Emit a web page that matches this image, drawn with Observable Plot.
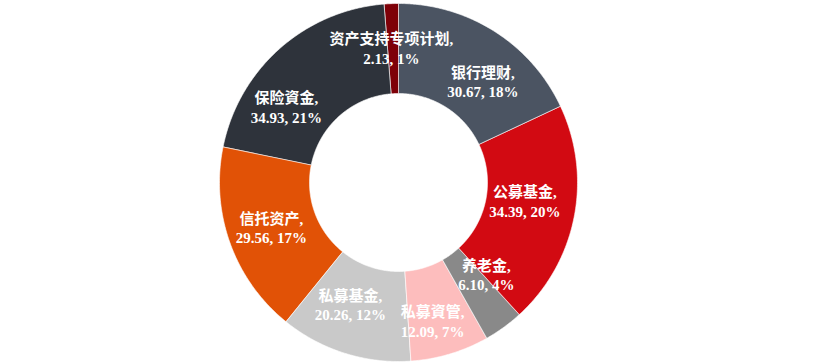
<!DOCTYPE html>
<html>
<head>
<meta charset="utf-8">
<script src="https://cdn.jsdelivr.net/npm/d3@7"></script>
<script src="https://cdn.jsdelivr.net/npm/@observablehq/plot@0.6"></script>
<style>
  html, body { margin: 0; padding: 0; background: #ffffff; }
  #chart svg { display: block; }
</style>
</head>
<body>
<div id="chart"></div>
<script>
// ---- data ----
const categories = ["银行理财", "公募基金", "养老金", "私募資管", "私募基金", "信托资产", "保险資金", "资产支持专项计划"];
const values = [30.67, 34.39, 6.10, 12.09, 20.26, 29.56, 34.93, 2.13];
const percents = [18, 20, 4, 7, 12, 17, 21, 1];
const colors = ["#4b5462", "#d20a12", "#898989", "#fdbdbd", "#c9c9c9", "#e15206", "#2e333b", "#7e0008"];

// ---- layout ----
const W = 822, H = 364;
const CX = 398, CY = 182;
const R1 = 179, R0 = 89, RL = 133;
const labelNudge = [[13, 11], [-4, -8], [10, -16], [-4, 11], [-8, -5], [-2, 0], [-24, 24], [-2, -2]];

const total = d3.sum(values);
const angle = d3.scaleLinear().domain([0, total]).range([0, 2 * Math.PI]);
const pt = (r, a) => [r * Math.sin(a), -r * Math.cos(a)];

let cum = 0;
const slices = categories.map((c, i) => {
  const a0 = angle(cum);
  cum += values[i];
  const a1 = angle(cum);
  return {category: c, value: values[i], percent: percents[i], a0, a1, i};
});

const features = slices.map(s => {
  const n = Math.max(2, Math.ceil((s.a1 - s.a0) / (Math.PI / 360)));
  const outer = d3.range(n + 1).map(k => pt(R1, s.a0 + (s.a1 - s.a0) * k / n));
  const inner = d3.range(n + 1).map(k => pt(R0, s.a1 - (s.a1 - s.a0) * k / n));
  return {
    type: "Feature",
    properties: {category: s.category},
    geometry: {type: "Polygon", coordinates: [[...outer, ...inner, outer[0]]]}
  };
});

const labels = slices.map(s => {
  const [x, y] = pt(RL, (s.a0 + s.a1) / 2);
  return {
    x: x + labelNudge[s.i][0],
    y: y + labelNudge[s.i][1],
    text: `${s.category},\n${s.value.toFixed(2)}, ${s.percent}%`
  };
});

const chart = Plot.plot({
  width: W,
  height: H,
  marginLeft: CX - R1,
  marginRight: W - CX - R1,
  marginTop: CY - R1,
  marginBottom: H - CY - R1,
  projection: {type: "identity", domain: {type: "MultiPoint", coordinates: [[-R1, -R1], [R1, R1]]}},
  color: {domain: categories, range: colors},
  style: {background: "#ffffff"},
  marks: [
    Plot.geo(features, {fill: d => d.properties.category, stroke: "#ffffff", strokeWidth: 0.6}),
    Plot.text(labels, {
      x: "x", y: "y", text: "text",
      fill: "#ffffff",
      fontSize: 15,
      fontWeight: "bold",
      lineHeight: 1.3,
      fontFamily: "'Liberation Serif', 'Noto Sans CJK SC', serif"
    })
  ]
});
document.getElementById("chart").append(chart);
</script>
</body>
</html>
